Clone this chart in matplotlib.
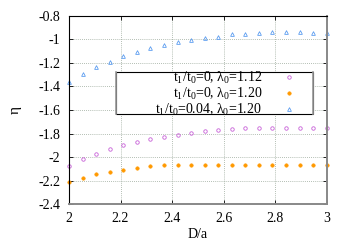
import matplotlib
matplotlib.use("Agg")
import matplotlib.pyplot as plt
from matplotlib.patches import Rectangle

plt.rcParams['font.family'] = ['Liberation Serif', 'DejaVu Serif']
plt.rcParams['mathtext.fontset'] = 'custom'
plt.rcParams['mathtext.rm'] = 'Liberation Serif'
plt.rcParams['mathtext.it'] = 'Liberation Serif'

# D/a sample points (20 points between 2 and 3)
x = [2.000, 2.053, 2.105, 2.158, 2.211, 2.263, 2.316, 2.368, 2.421, 2.474,
     2.526, 2.579, 2.632, 2.684, 2.737, 2.789, 2.842, 2.895, 2.947, 3.000]

# t1/t0=0, lambda0=1.12
eta_a = [-2.074, -2.020, -1.972, -1.932, -1.898, -1.870, -1.847, -1.827, -1.810, -1.798,
         -1.781, -1.770, -1.762, -1.756, -1.756, -1.753, -1.753, -1.753, -1.753, -1.756]
# t1/t0=0, lambda0=1.20
eta_b = [-2.213, -2.179, -2.147, -2.125, -2.108, -2.091, -2.077, -2.068, -2.068, -2.068,
         -2.068, -2.068, -2.068, -2.068, -2.068, -2.068, -2.068, -2.068, -2.068, -2.068]
# t1/t0=0.04, lambda0=1.20
eta_c = [-1.364, -1.294, -1.234, -1.189, -1.140, -1.106, -1.075, -1.047, -1.024, -1.007,
         -0.987, -0.976, -0.956, -0.953, -0.945, -0.939, -0.939, -0.939, -0.942, -0.942]

labels = [r"t$_1$/t$_0$=0, $\lambda_0$=1.12",
          r"t$_1$/t$_0$=0, $\lambda_0$=1.20",
          r"t$_1$/t$_0$=0.04, $\lambda_0$=1.20"]

xticks = [2, 2.2, 2.4, 2.6, 2.8, 3]
xticklabels = ["2", "2.2", "2.4", "2.6", "2.8", "3"]
yticks = [-2.4, -2.2, -2, -1.8, -1.6, -1.4, -1.2, -1, -0.8]
yticklabels = ["-2.4", "-2.2", "-2", "-1.8", "-1.6", "-1.4", "-1.2", "-1", "-0.8"]

fs = 10

fig = plt.figure(figsize=(3.5, 2.45), dpi=100)
ax = fig.add_axes([0.197, 0.167, 0.737, 0.768])

ax.plot(x, eta_a, linestyle="none", marker="o", ms=2.5, mfc="none", mec="#c860d8", mew=0.6,
        label=labels[0], clip_on=False)
ax.plot(x, eta_b, linestyle="none", marker="o", ms=2.5, mfc="#ff9900", mec="#ff9900", mew=0.4,
        label=labels[1], clip_on=False)
ax.plot(x, eta_c, linestyle="none", marker="^", ms=2.7, mfc="none", mec="#5b9cf0", mew=0.6,
        label=labels[2], clip_on=False)

ax.set_xlim(2, 3)
ax.set_ylim(-2.4, -0.8)
ax.set_xticks(xticks)
ax.set_xticklabels(xticklabels)
ax.set_yticks(yticks)
ax.set_yticklabels(yticklabels)
ax.tick_params(direction="in", length=3, width=0.6, labelsize=fs, top=True, right=True)
ax.tick_params(axis="x", pad=6)
ax.tick_params(axis="y", pad=6)
ax.grid(True, linestyle=(0, (1, 1.5)), color="#9aa89a", linewidth=0.6)

for s in ["left", "top"]:
    ax.spines[s].set_color("black")
    ax.spines[s].set_linewidth(0.8)
for s in ["right", "bottom"]:
    ax.spines[s].set_color("#888888")
    ax.spines[s].set_linewidth(1.4)

ax.set_xlabel("D/a", fontsize=fs, labelpad=2)
ax.set_ylabel("η", fontsize=fs + 1, labelpad=12)

# legend frame (gnuplot style box)
box = Rectangle((0.182, 0.479), 0.764, 0.223, transform=ax.transAxes,
                facecolor="white", edgecolor="black", linewidth=0.8, zorder=4)
ax.add_patch(box)
ax.plot([0.182, 0.182], [0.479, 0.702], transform=ax.transAxes, color="#999999",
        lw=1.2, zorder=4.5)
ax.plot([0.946, 0.946], [0.479, 0.702], transform=ax.transAxes, color="#999999",
        lw=1.2, zorder=4.5)

leg = ax.legend(loc="upper right", bbox_to_anchor=(0.872, 0.712), markerfirst=False,
                fontsize=fs, frameon=False, borderpad=0, labelspacing=0.0,
                handletextpad=1.55, borderaxespad=0, handlelength=0.75)
leg.set_zorder(5)

fig.savefig("out.png", dpi=100)
